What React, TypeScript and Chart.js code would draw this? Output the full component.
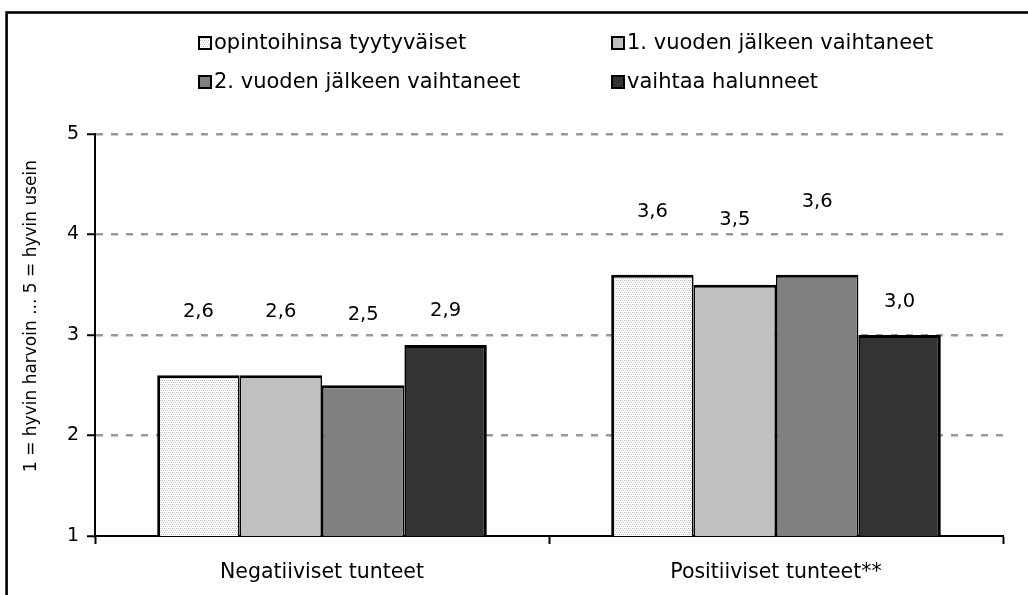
import React, { useEffect, useRef } from "react";
import { Chart, registerables } from "chart.js";

Chart.register(...registerables);

const categories = ["Negatiiviset tunteet", "Positiiviset tunteet**"];
const seriesNames = [
  "opintoihinsa tyytyväiset",
  "1. vuoden jälkeen vaihtaneet",
  "2. vuoden jälkeen vaihtaneet",
  "vaihtaa halunneet",
];
const satisfied = [2.6, 3.6];
const switchedAfter1 = [2.6, 3.5];
const switchedAfter2 = [2.5, 3.6];
const wantToSwitch = [2.9, 3.0];
// axis value where each value label sits (labels were hand-placed in the original)
const satisfiedLabelAt = [3.23, 4.22];
const switched1LabelAt = [3.23, 4.14];
const switched2LabelAt = [3.2, 4.32];
const wantLabelAt = [3.24, 3.33];
const yTicks = [1, 2, 3, 4, 5];
const yTitle = "1 = hyvin harvoin ... 5 = hyvin usein";

const FONT = "DejaVu Sans";

function makePattern(): CanvasPattern | string {
  const c = document.createElement("canvas");
  c.width = 4;
  c.height = 4;
  const g = c.getContext("2d");
  if (!g) return "#eeeeee";
  g.fillStyle = "#ffffff";
  g.fillRect(0, 0, 4, 4);
  g.fillStyle = "#bdbdbd";
  g.fillRect(0, 0, 1, 1);
  g.fillRect(2, 0, 1, 1);
  g.fillRect(1, 2, 1, 1);
  g.fillRect(3, 2, 1, 1);
  const p = g.createPattern(c, "repeat");
  return p || "#eeeeee";
}

export default function App() {
  const ref = useRef<HTMLCanvasElement | null>(null);

  useEffect(() => {
    document.body.style.margin = "0";
    const canvas = ref.current;
    if (!canvas) return;
    const pattern = makePattern();
    const labelAt = [satisfiedLabelAt, switched1LabelAt, switched2LabelAt, wantLabelAt];
    const fmt = (v: number) => v.toFixed(1).replace(".", ",");

    const frame = {
      id: "frame",
      afterDraw(chart: any) {
        const ctx = chart.ctx;
        ctx.save();
        ctx.strokeStyle = "#000";
        ctx.lineWidth = 2.6;
        ctx.strokeRect(6.6, 12.5, 1100, 700);
        ctx.restore();
      },
    };

    const legendPlugin = {
      id: "gridLegend",
      afterDraw(chart: any) {
        const ctx = chart.ctx;
        const cols = [199, 612];
        const rows = [43, 82];
        ctx.save();
        ctx.font = `21px "${FONT}"`;
        ctx.textBaseline = "middle";
        ctx.textAlign = "left";
        chart.data.datasets.forEach((ds: any, i: number) => {
          const x = cols[i % 2];
          const y = rows[Math.floor(i / 2)];
          ctx.fillStyle = ds.backgroundColor;
          ctx.fillRect(x, y - 6, 12, 12);
          ctx.strokeStyle = "#000";
          ctx.lineWidth = 2;
          ctx.strokeRect(x, y - 6, 12, 12);
          ctx.fillStyle = "#000";
          ctx.fillText(ds.label, x + 15, y + 1);
        });
        ctx.restore();
      },
    };

    const valueLabels = {
      id: "valueLabels",
      afterDatasetsDraw(chart: any) {
        const ctx = chart.ctx;
        const yScale = chart.scales.y;
        ctx.save();
        ctx.font = `19.5px "${FONT}"`;
        ctx.textAlign = "center";
        ctx.textBaseline = "middle";
        ctx.fillStyle = "#000";
        chart.data.datasets.forEach((ds: any, i: number) => {
          const meta = chart.getDatasetMeta(i);
          meta.data.forEach((el: any, j: number) => {
            const y = yScale.getPixelForValue(labelAt[i][j]);
            ctx.fillText(fmt(ds.data[j]), el.x, y);
          });
        });
        ctx.restore();
      },
    };

    const yTitlePlugin = {
      id: "yTitle",
      afterDraw(chart: any) {
        const ctx = chart.ctx;
        ctx.save();
        ctx.translate(32, 316);
        ctx.rotate(-Math.PI / 2);
        ctx.font = `17px "${FONT}"`;
        ctx.textAlign = "center";
        ctx.textBaseline = "middle";
        ctx.fillStyle = "#000";
        ctx.fillText(yTitle, 0, 0);
        ctx.restore();
      },
    };

    const outer = 3;
    const inner = 1.6;

    const chart = new Chart(canvas, {
      type: "bar",
      data: {
        labels: categories,
        datasets: [
          {
            label: seriesNames[0],
            data: satisfied,
            backgroundColor: pattern as any,
            borderColor: "#000",
            borderWidth: { top: outer, left: outer, right: inner, bottom: 0 },
          },
          {
            label: seriesNames[1],
            data: switchedAfter1,
            backgroundColor: "#c0c0c0",
            borderColor: "#000",
            borderWidth: { top: outer, left: inner, right: inner, bottom: 0 },
          },
          {
            label: seriesNames[2],
            data: switchedAfter2,
            backgroundColor: "#808080",
            borderColor: "#000",
            borderWidth: { top: outer, left: inner, right: inner, bottom: 0 },
          },
          {
            label: seriesNames[3],
            data: wantToSwitch,
            backgroundColor: "#333333",
            borderColor: "#000",
            borderWidth: { top: outer, left: inner, right: outer, bottom: 0 },
          },
        ],
      },
      options: {
        responsive: false,
        animation: false,
        events: [],
        layout: { padding: { left: 0, right: 25, top: 134, bottom: 0 } },
        datasets: {
          bar: { categoryPercentage: 0.726, barPercentage: 1, borderSkipped: false },
        },
        plugins: {
          legend: { display: false },
          tooltip: { enabled: false },
          title: { display: false },
        },
        scales: {
          x: {
            type: "category",
            offset: true,
            grid: {
              display: true,
              offset: true,
              drawOnChartArea: false,
              drawTicks: true,
              tickLength: 8,
              tickColor: "#000",
              tickWidth: 2,
            },
            border: { display: true, color: "#000", width: 2 },
            ticks: {
              color: "#000",
              font: { family: FONT, size: 20.5 },
              padding: 16,
              maxRotation: 0,
            },
            afterFit(scale: any) {
              scale.height = 59;
            },
          },
          y: {
            type: "linear",
            min: yTicks[0],
            max: yTicks[yTicks.length - 1],
            afterBuildTicks(scale: any) {
              scale.ticks = yTicks.map((v) => ({ value: v }));
            },
            grid: {
              display: true,
              drawOnChartArea: true,
              drawTicks: true,
              tickLength: 8,
              color: (ctx: any) => (ctx.tick && ctx.tick.value === yTicks[0] ? "rgba(0,0,0,0)" : "#999999"),
              lineWidth: 2.5,
              tickColor: "#000",
              tickWidth: 2,
              tickBorderDash: [],
            },
            border: { display: true, color: "#000", width: 2, dash: [7, 8] },
            ticks: {
              color: "#000",
              font: { family: FONT, size: 19 },
              padding: 8,
              callback: (v: any) => String(v),
            },
            afterFit(scale: any) {
              scale.width = 95;
            },
          },
        },
      },
      plugins: [frame, legendPlugin, valueLabels, yTitlePlugin],
    } as any);

    return () => chart.destroy();
  }, []);

  return <canvas ref={ref} width={1028} height={595} style={{ display: "block" }} />;
}
